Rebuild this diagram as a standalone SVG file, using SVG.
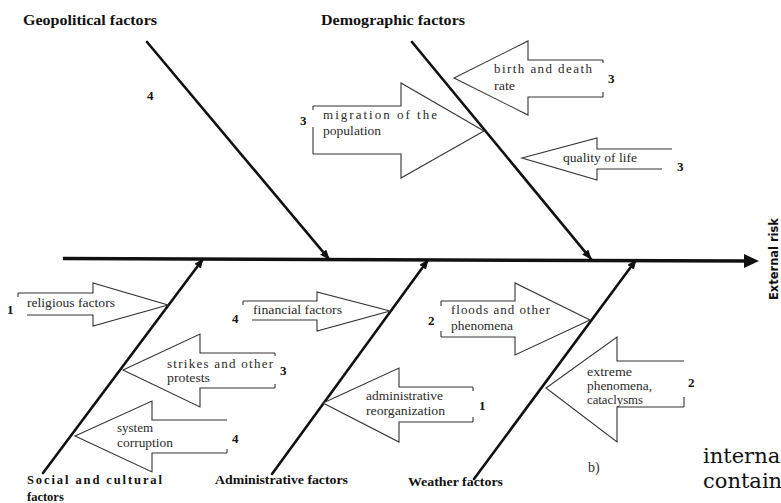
<svg xmlns="http://www.w3.org/2000/svg" width="781" height="503" viewBox="0 0 781 503">
<defs>
<marker id="ah" markerUnits="userSpaceOnUse" markerWidth="10" markerHeight="8" refX="9" refY="4" orient="auto">
<path d="M0,0 L10,4 L0,8 z" fill="#111"/>
</marker>
<style>
.bone{stroke:#111;stroke-width:2.6;fill:none;stroke-linecap:round}
.box{fill:#fff;stroke:#333;stroke-width:1.1;stroke-linejoin:miter}
.tick{stroke:#333;stroke-width:1.1}
.lbl{font-family:"Liberation Serif","Times New Roman",serif;font-size:13px;fill:#2a2a2a}
.num{font-family:"Liberation Serif","Times New Roman",serif;font-size:13px;font-weight:bold;fill:#111}
.hdr{font-family:"Liberation Serif","Times New Roman",serif;font-size:15px;font-weight:bold;fill:#111}
.cat{font-family:"Liberation Serif","Times New Roman",serif;font-size:12.5px;font-weight:bold;fill:#111}
</style>
</defs>
<rect width="781" height="503" fill="#fff"/>

<g id="connectors">
<line x1="63" y1="258.5" x2="747" y2="261" stroke="#111" stroke-width="3.5"/>
<polygon points="744,254 759,261 744,268" fill="#111"/>
<line class="bone" x1="147" y1="42" x2="329" y2="259" marker-end="url(#ah)"/>
<line class="bone" x1="412" y1="42" x2="591" y2="259" marker-end="url(#ah)"/>
<line class="bone" x1="43" y1="473" x2="203" y2="259" marker-end="url(#ah)"/>
<line class="bone" x1="272" y1="474" x2="428" y2="260" marker-end="url(#ah)"/>
<line class="bone" x1="474" y1="479" x2="636" y2="260" marker-end="url(#ah)"/>
</g>

<g id="geopolitical">
<text class="hdr" x="23" y="25" textLength="134" lengthAdjust="spacingAndGlyphs">Geopolitical factors</text>
<text class="num" x="147" y="100">4</text>
</g>

<g id="demographic">
<text class="hdr" x="321" y="25" textLength="144" lengthAdjust="spacingAndGlyphs">Demographic factors</text>
</g>

<g id="migration">
<polyline class="box" points="313,106 401,106 401,83 484,131 401,178 401,154 313,154"/>
<line class="tick" x1="313" y1="106" x2="313" y2="110"/>
<line class="tick" x1="313" y1="127" x2="313" y2="154"/>
<text class="lbl" x="323" y="119" textLength="114" lengthAdjust="spacing">migration of the</text>
<text class="lbl" x="323" y="135" textLength="58" lengthAdjust="spacingAndGlyphs">population</text>
<text class="num" x="300" y="125" font-size="11">3</text>
</g>

<g id="birth">
<polyline class="box" points="603,60 528,60 528,41 454,78 528,115 528,97 603,97"/>
<line class="tick" x1="603" y1="60" x2="603" y2="63"/>
<line class="tick" x1="603" y1="92" x2="603" y2="97"/>
<text class="lbl" x="494" y="73" textLength="98" lengthAdjust="spacing">birth and death</text>
<text class="lbl" x="494" y="90" textLength="21" lengthAdjust="spacingAndGlyphs">rate</text>
<text class="num" x="608" y="83">3</text>
</g>

<g id="quality">
<polyline class="box" points="672,149 597,149 597,138 522,158 597,180 597,169 662,169"/>
<text class="lbl" x="563" y="162" textLength="74" lengthAdjust="spacingAndGlyphs">quality of life</text>
<text class="num" x="677" y="171">3</text>
</g>

<g id="religious">
<polyline class="box" points="18,293 93,293 93,283 168,305 93,326 93,315 27,315"/>
<line class="tick" x1="18" y1="293" x2="18" y2="297"/>
<text class="lbl" x="27" y="307" textLength="88" lengthAdjust="spacingAndGlyphs">religious factors</text>
<text class="num" x="7" y="314">1</text>
</g>

<g id="strikes">
<polyline class="box" points="275,353 200,353 200,334 123,370 200,407 200,388 275,388"/>
<line class="tick" x1="275" y1="353" x2="275" y2="356"/>
<line class="tick" x1="275" y1="384" x2="275" y2="388"/>
<text class="lbl" x="167" y="368" textLength="106" lengthAdjust="spacing">strikes and other</text>
<text class="lbl" x="167" y="382" textLength="43" lengthAdjust="spacingAndGlyphs">protests</text>
<text class="num" x="280" y="375">3</text>
</g>

<g id="corruption">
<polyline class="box" points="227,420 152,420 152,401 75,436 152,472 152,453 227,453"/>
<line class="tick" x1="227" y1="449" x2="227" y2="453"/>
<text class="lbl" x="117" y="432">system</text>
<text class="lbl" x="117" y="447" textLength="56" lengthAdjust="spacingAndGlyphs">corruption</text>
<text class="num" x="232" y="443">4</text>
</g>

<g id="financial">
<polyline class="box" points="243,301 317,301 317,292 390,311 317,331 317,320 252,320"/>
<line class="tick" x1="243" y1="301" x2="243" y2="305"/>
<text class="lbl" x="253" y="314" textLength="89" lengthAdjust="spacingAndGlyphs">financial factors</text>
<text class="num" x="232" y="323">4</text>
</g>

<g id="reorganization">
<polyline class="box" points="473,387 399,387 399,368 323,403 399,442 399,422 473,422"/>
<line class="tick" x1="473" y1="387" x2="473" y2="391"/>
<line class="tick" x1="473" y1="417" x2="473" y2="422"/>
<text class="lbl" x="366" y="400" textLength="77" lengthAdjust="spacingAndGlyphs">administrative</text>
<text class="lbl" x="366" y="415" textLength="79" lengthAdjust="spacingAndGlyphs">reorganization</text>
<text class="num" x="479" y="410">1</text>
</g>

<g id="floods">
<polyline class="box" points="441,301 515,301 515,283 590,320 515,355 515,337 441,337"/>
<line class="tick" x1="441" y1="301" x2="441" y2="306"/>
<line class="tick" x1="441" y1="331" x2="441" y2="337"/>
<text class="lbl" x="451" y="314" textLength="99" lengthAdjust="spacing">floods and other</text>
<text class="lbl" x="451" y="330" textLength="62" lengthAdjust="spacingAndGlyphs">phenomena</text>
<text class="num" x="428" y="325">2</text>
</g>

<g id="extreme">
<polyline class="box" points="684,361 617,361 617,337 546,388 617,442 617,407 684,407"/>
<line class="tick" x1="684" y1="397" x2="684" y2="407"/>
<text class="lbl" x="587" y="376" textLength="45" lengthAdjust="spacingAndGlyphs">extreme</text>
<text class="lbl" x="587" y="390" textLength="65" lengthAdjust="spacingAndGlyphs">phenomena,</text>
<text class="lbl" x="587" y="404" textLength="56" lengthAdjust="spacingAndGlyphs">cataclysms</text>
<text class="num" x="688" y="387">2</text>
</g>

<g id="social">
<text class="cat" x="27" y="484" textLength="135" lengthAdjust="spacing">Social and cultural</text>
<text class="cat" x="27" y="501">factors</text>
</g>

<g id="administrative">
<text class="cat" x="215" y="484" textLength="133" lengthAdjust="spacingAndGlyphs">Administrative factors</text>
</g>

<g id="weather">
<text class="cat" x="408" y="486" textLength="95" lengthAdjust="spacingAndGlyphs">Weather factors</text>
</g>

<g id="result">
<text transform="translate(778,300) rotate(-90)" font-family="'DejaVu Sans',sans-serif" font-weight="bold" font-size="11.5" fill="#111" textLength="82" lengthAdjust="spacingAndGlyphs">External risk</text>
</g>

<text x="588" y="472" font-family="'Liberation Serif',serif" font-size="14" fill="#333">b)</text>
<text x="703" y="463" font-family="'DejaVu Serif',serif" font-size="21" fill="#111">interna</text>
<text x="703" y="488" font-family="'DejaVu Serif',serif" font-size="21" fill="#111">contain</text>
</svg>
